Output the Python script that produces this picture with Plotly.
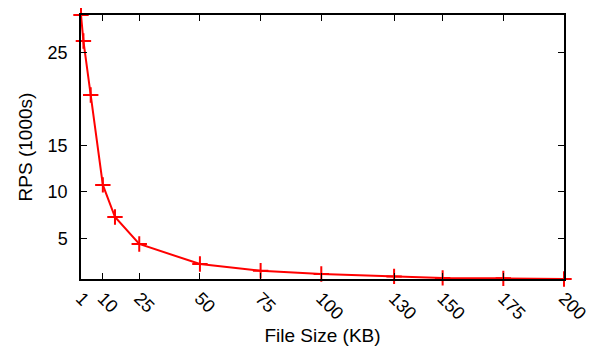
import plotly.graph_objects as go

file_size_kb = [1, 2, 5, 10, 15, 25, 50, 75, 100, 130, 150, 175, 200]
rps_thousands = [29.0, 26.2, 20.4, 10.75, 7.3, 4.4, 2.25, 1.53, 1.18, 0.92, 0.76, 0.71, 0.64]
x_tick_vals = [1, 10, 25, 50, 75, 100, 130, 150, 175, 200]
y_tick_vals = [5, 10, 15, 25]

FONT = "Liberation Sans, Arial, sans-serif"

fig = go.Figure()
fig.add_trace(go.Scatter(
    x=file_size_kb, y=rps_thousands,
    mode="lines+markers",
    line=dict(color="#ff0000", width=2),
    marker=dict(symbol="cross-thin", size=11, color="#ff0000",
                line=dict(color="#ff0000", width=2)),
    cliponaxis=False,
    showlegend=False,
))

fig.update_layout(
    width=587, height=345,
    margin=dict(l=73, r=31, t=7, b=74),
    paper_bgcolor="white", plot_bgcolor="white",
    font=dict(family=FONT, size=18, color="black"),
)
fig.update_xaxes(
    range=[1, 200], automargin=False,
    tickvals=x_tick_vals, ticktext=[str(v) for v in x_tick_vals],
    tickangle=45,
    ticks="inside", ticklen=6, tickwidth=1, tickcolor="black",
    showline=True, linecolor="black", linewidth=1.5, mirror="ticks",
    showgrid=False, zeroline=False,
    title=dict(text="File Size (KB)", font=dict(size=19), standoff=6),
)
fig.update_yaxes(
    range=[min(rps_thousands), max(rps_thousands)], automargin=False,
    tickvals=y_tick_vals, ticktext=[str(v) for v in y_tick_vals],
    ticks="inside", ticklen=6, tickwidth=1, tickcolor="black",
    ticklabelstandoff=8,
    showline=True, linecolor="black", linewidth=1.5, mirror="ticks",
    showgrid=False, zeroline=False,
    title=dict(text="RPS (1000s)", font=dict(size=19), standoff=10),
)

fig.write_html("out.html")
